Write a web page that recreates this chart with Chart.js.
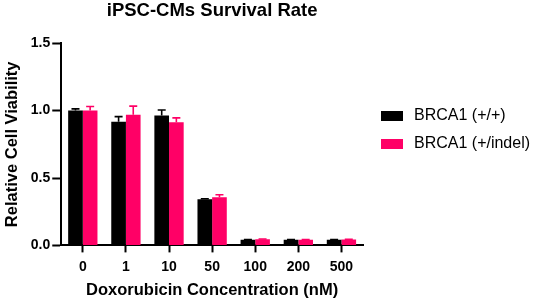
<!DOCTYPE html>
<html>
<head>
<meta charset="utf-8">
<script src="https://cdn.jsdelivr.net/npm/chart.js@4/dist/chart.umd.min.js"></script>
<style>
  html, body { margin: 0; padding: 0; background: #fff; }
  #wrap { width: 536px; height: 302px; }
</style>
</head>
<body>
<div id="wrap"><canvas id="chart"></canvas></div>
<script>
// chart data
const concentrations = ["0", "1", "10", "50", "100", "200", "500"];
const wildType = [1.0, 0.918, 0.963, 0.342, 0.042, 0.041, 0.041];
const wildTypeErr = [0.013, 0.037, 0.042, 0.004, 0.002, 0.002, 0.002];
const indel = [1.0, 0.970, 0.914, 0.357, 0.046, 0.042, 0.043];
const indelErr = [0.030, 0.063, 0.032, 0.019, 0.002, 0.002, 0.002];
const yTicks = [0, 0.5, 1.0, 1.5];

const FONT = "'Liberation Sans', Arial, Helvetica, sans-serif";

// draws the upper error whiskers from the err arrays
const errorBars = {
  id: "errorBars",
  afterDatasetsDraw(chart) {
    const ctx = chart.ctx;
    const yScale = chart.scales.y;
    chart.data.datasets.forEach((ds, i) => {
      const meta = chart.getDatasetMeta(i);
      meta.data.forEach((bar, j) => {
        const top = yScale.getPixelForValue(ds.data[j] + ds.errors[j]);
        ctx.save();
        ctx.strokeStyle = ds.backgroundColor;
        ctx.lineWidth = 1.6;
        ctx.beginPath();
        ctx.moveTo(bar.x, bar.y);
        ctx.lineTo(bar.x, top);
        ctx.moveTo(bar.x - 4, top);
        ctx.lineTo(bar.x + 4, top);
        ctx.stroke();
        ctx.restore();
      });
    });
  }
};

// legend to the right of the plot, like the prism export
const sideLegend = {
  id: "sideLegend",
  afterDraw(chart) {
    const ctx = chart.ctx;
    const area = chart.chartArea;
    const x = area.right + 18;
    ctx.save();
    ctx.font = "16px " + FONT;
    ctx.textBaseline = "middle";
    chart.data.datasets.forEach((ds, i) => {
      const y = 116 + i * 28;
      ctx.fillStyle = ds.backgroundColor;
      ctx.fillRect(x, y - 5, 22, 10);
      ctx.fillStyle = "#000";
      ctx.fillText(ds.label, x + 33, y);
    });
    ctx.restore();
  }
};

new Chart(document.getElementById("chart"), {
  type: "bar",
  data: {
    labels: concentrations,
    datasets: [
      { label: "BRCA1 (+/+)", data: wildType, errors: wildTypeErr, backgroundColor: "#000000" },
      { label: "BRCA1 (+/indel)", data: indel, errors: indelErr, backgroundColor: "#ff0066" }
    ]
  },
  options: {
    responsive: true,
    maintainAspectRatio: false,
    animation: false,
    layout: { padding: { top: 0, right: 173, bottom: 2, left: 3 } },
    categoryPercentage: 0.68,
    barPercentage: 1.0,
    plugins: {
      title: {
        display: true,
        text: "iPSC-CMs Survival Rate",
        fullSize: false,
        color: "#000",
        font: { family: FONT, size: 18.5, weight: "bold" },
        padding: { top: 0, bottom: 21 }
      },
      legend: { display: false },
      tooltip: { enabled: false }
    },
    scales: {
      x: {
        grid: {
          display: true,
          drawOnChartArea: false,
          offset: false,
          tickLength: 7,
          tickWidth: 2,
          tickColor: "#000"
        },
        border: { color: "#000", width: 2 },
        ticks: { color: "#000", padding: 6, font: { family: FONT, size: 14, weight: "bold" } },
        title: {
          display: true,
          text: "Doxorubicin Concentration (nM)",
          color: "#000",
          padding: { top: -1, bottom: 0 },
          font: { family: FONT, size: 16.5, weight: "bold" }
        }
      },
      y: {
        min: 0,
        max: 1.5,
        afterBuildTicks(axis) {
          axis.ticks = yTicks.map(v => ({ value: v }));
        },
        grid: {
          display: true,
          drawOnChartArea: false,
          tickLength: 9,
          tickWidth: 2,
          tickColor: "#000"
        },
        border: { color: "#000", width: 2 },
        ticks: {
          color: "#000",
          padding: 2,
          font: { family: FONT, size: 14, weight: "bold" },
          callback: v => Number(v).toFixed(1)
        },
        title: {
          display: true,
          text: "Relative Cell Viability",
          color: "#000",
          padding: { top: 0, bottom: 6 },
          font: { family: FONT, size: 16.5, weight: "bold" }
        }
      }
    }
  },
  plugins: [errorBars, sideLegend]
});
</script>
</body>
</html>
